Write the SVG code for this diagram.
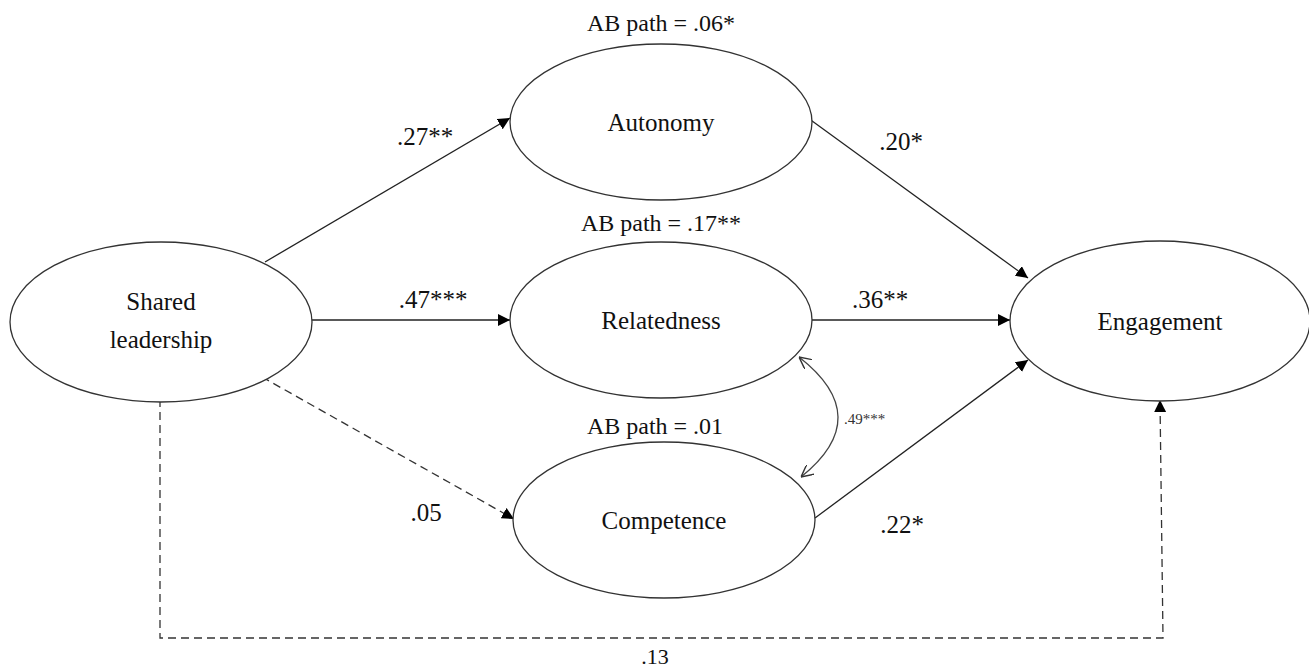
<svg xmlns="http://www.w3.org/2000/svg" width="1309" height="667" viewBox="0 0 1309 667">
  <style>
    .node { fill: #fff; stroke: #333; stroke-width: 1.3; }
    .lbl { font-family: "Liberation Serif", "Times New Roman", serif; font-size: 25px; fill: #111; text-anchor: middle; }
    .ab { font-family: "Liberation Serif", "Times New Roman", serif; font-size: 24px; fill: #111; text-anchor: middle; }
    .coef { font-family: "Liberation Serif", "Times New Roman", serif; font-size: 25px; fill: #111; text-anchor: middle; }
    .small { font-family: "Liberation Serif", "Times New Roman", serif; font-size: 15px; fill: #333; }
    .edge { fill: none; stroke: #222; stroke-width: 1.3; }
    .dash { fill: none; stroke: #333; stroke-width: 1.3; stroke-dasharray: 8 5; }
  </style>
  <defs>
    <marker id="arrow" viewBox="0 0 10 10" refX="10" refY="5" markerWidth="12" markerHeight="12" markerUnits="userSpaceOnUse" orient="auto">
      <path d="M0,0 L10,5 L0,10 z" fill="#000"/>
    </marker>
    <marker id="open" viewBox="0 0 10 10" refX="10" refY="5" markerWidth="12" markerHeight="12" markerUnits="userSpaceOnUse" orient="auto-start-reverse">
      <path d="M0,0 L10,5 L0,10" fill="none" stroke="#333" stroke-width="1.2"/>
    </marker>
  </defs>

  <g id="connectors">
    <line class="edge" x1="265" y1="262" x2="510" y2="118" marker-end="url(#arrow)"/>
    <line class="edge" x1="312" y1="320" x2="510" y2="320" marker-end="url(#arrow)"/>
    <line class="dash" x1="262" y1="377" x2="514" y2="519" marker-end="url(#arrow)"/>
    <line class="edge" x1="808" y1="118" x2="1028" y2="278" marker-end="url(#arrow)"/>
    <line class="edge" x1="812" y1="320" x2="1010" y2="320" marker-end="url(#arrow)"/>
    <line class="edge" x1="815" y1="518" x2="1028" y2="360" marker-end="url(#arrow)"/>
    <polyline class="dash" points="160,399 160,638 1163,638 1160,400" marker-end="url(#arrow)"/>
    <path class="edge" d="M799,357 Q876,417 801,477" marker-start="url(#open)" marker-end="url(#open)" style="stroke:#444"/>
  </g>

  <g id="shared-leadership">
    <ellipse class="node" cx="161" cy="322" rx="151" ry="80"/>
    <text class="lbl" x="161" y="310">Shared</text>
    <text class="lbl" x="161" y="348">leadership</text>
  </g>

  <g id="autonomy">
    <ellipse class="node" cx="661" cy="122" rx="151" ry="78"/>
    <text class="lbl" x="661" y="131">Autonomy</text>
    <text class="ab" x="661" y="31">AB path = .06*</text>
  </g>

  <g id="relatedness">
    <ellipse class="node" cx="661" cy="320" rx="151" ry="78"/>
    <text class="lbl" x="661" y="329">Relatedness</text>
    <text class="ab" x="661" y="231">AB path = .17**</text>
  </g>

  <g id="competence">
    <ellipse class="node" cx="664" cy="520" rx="151" ry="78"/>
    <text class="lbl" x="664" y="529">Competence</text>
    <text class="ab" x="655" y="434">AB path = .01</text>
  </g>

  <g id="engagement">
    <ellipse class="node" cx="1160" cy="321" rx="150" ry="80"/>
    <text class="lbl" x="1160" y="330">Engagement</text>
  </g>

  <g id="coefficients">
    <text class="coef" x="425" y="145">.27**</text>
    <text class="coef" x="901" y="150">.20*</text>
    <text class="coef" x="433" y="308">.47***</text>
    <text class="coef" x="880" y="308">.36**</text>
    <text class="coef" x="426" y="521">.05</text>
    <text class="coef" x="902" y="533">.22*</text>
    <text class="coef" x="655" y="664" style="font-size:22px">.13</text>
    <text class="small" x="844" y="424">.49***</text>
  </g>
</svg>
